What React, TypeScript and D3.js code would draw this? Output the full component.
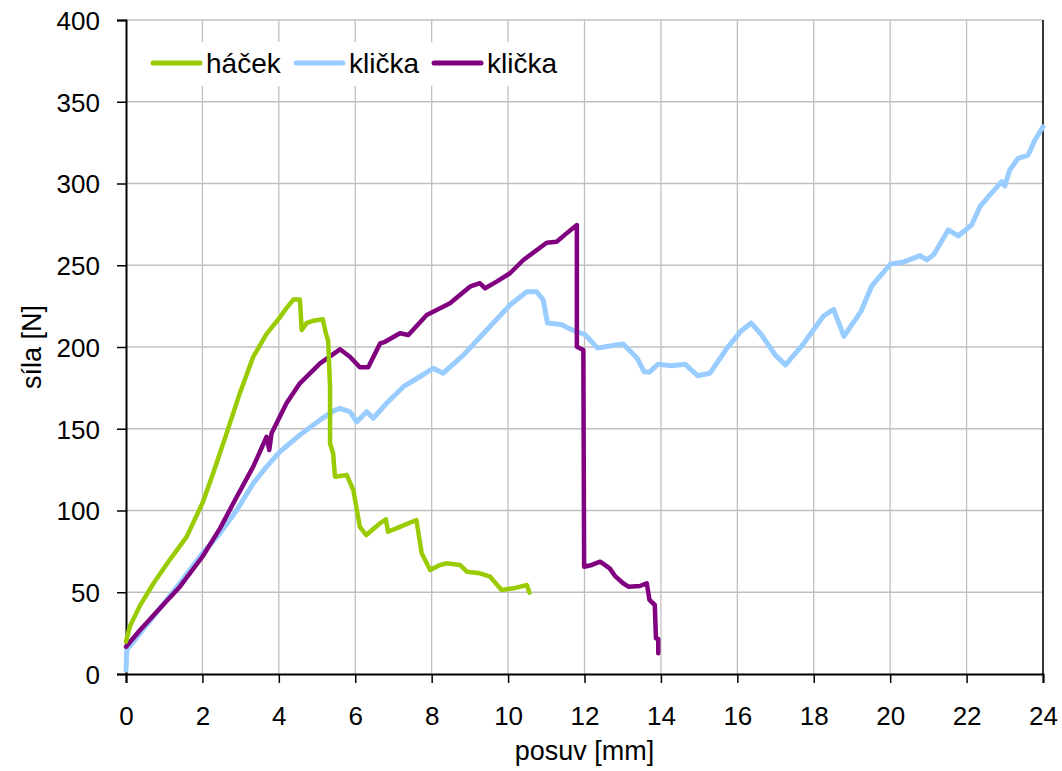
import { useEffect, useRef } from 'react';
import * as d3 from 'd3';

// posuv [mm] / síla [N]
const hacekX = [0, 0.1, 0.37, 0.72, 1.15, 1.59, 2.0, 2.28, 2.63, 2.98, 3.33, 3.68, 3.99, 4.2, 4.38, 4.55, 4.6, 4.73, 4.9, 5.15, 5.23, 5.29, 5.34, 5.34, 5.42, 5.47, 5.78, 5.95, 6.12, 6.29, 6.65, 6.8, 6.86, 7.17, 7.6, 7.74, 7.96, 8.22, 8.39, 8.74, 8.92, 9.26, 9.53, 9.83, 10.14, 10.49, 10.56];
const hacekY = [19.8, 29, 42, 55.5, 70, 84, 104.5, 122.7, 147, 171.8, 194, 208, 217, 223.8, 229, 229, 210.4, 214.7, 216, 217, 208.5, 204, 175.7, 141, 135, 120.7, 121.7, 112.5, 90, 85, 92.2, 94.6, 87, 90, 94.2, 73.8, 63.6, 66.7, 67.7, 66.7, 62.6, 61.6, 59.5, 51.4, 52.4, 54.4, 49.7];

const klicka1X = [0, 0.02, 0.37, 0.89, 1.41, 2.0, 2.46, 2.9, 3.33, 3.68, 4.03, 4.55, 5.08, 5.43, 5.6, 5.86, 6.04, 6.3, 6.47, 6.82, 7.26, 7.69, 8.04, 8.3, 8.83, 9.44, 10.05, 10.49, 10.75, 10.92, 11.03, 11.39, 11.66, 12.02, 12.34, 12.74, 13.01, 13.38, 13.56, 13.69, 13.92, 14.28, 14.64, 14.96, 15.28, 15.73, 16.09, 16.36, 16.63, 16.99, 17.26, 17.71, 18.25, 18.52, 18.79, 19.24, 19.52, 20.01, 20.33, 20.78, 20.96, 21.14, 21.52, 21.78, 22.13, 22.35, 22.61, 22.92, 23.0, 23.13, 23.35, 23.61, 23.79, 24.0];
const klicka1Y = [2.4, 14.7, 24.9, 40.2, 55.5, 73.8, 86, 100.3, 116.6, 126.8, 136, 146.2, 155.4, 160.9, 162.5, 160.4, 154.3, 160.4, 156.4, 165.6, 175.7, 181.8, 187, 184, 195, 210.4, 225.7, 233.8, 233.8, 228.7, 214.7, 213.7, 210.6, 207.5, 199.3, 200.9, 201.8, 193.1, 184.9, 184.5, 189.4, 188.6, 189.4, 182.4, 183.9, 199.3, 209.6, 214.7, 207.5, 195.2, 189, 201.3, 218.8, 223, 206.5, 222, 237.4, 250.8, 251.8, 255.9, 253.3, 256.5, 271.6, 267.9, 274.6, 285.8, 293, 301.1, 298.5, 308.3, 315.4, 317.4, 326.6, 334.7];

const klicka2X = [0, 0.37, 0.89, 1.41, 2.0, 2.46, 2.9, 3.33, 3.68, 3.75, 3.81, 4.2, 4.55, 5.08, 5.6, 5.86, 6.12, 6.34, 6.65, 6.78, 7.17, 7.39, 7.87, 8.48, 9.0, 9.26, 9.4, 9.7, 10.05, 10.4, 11.01, 11.27, 11.53, 11.8, 11.8, 11.97, 11.99, 12.19, 12.41, 12.66, 12.8, 13.01, 13.15, 13.45, 13.63, 13.7, 13.84, 13.87, 13.93, 13.93];
const klicka2Y = [16.7, 26.9, 40.2, 53.4, 71.7, 89.1, 108.4, 126.8, 145.1, 137, 147.2, 165.6, 177.8, 190, 198.6, 194, 187.6, 187.6, 202.2, 203.2, 208.4, 207.3, 219.6, 226.7, 236.9, 239, 235.9, 240, 245.1, 253.2, 263.8, 264.4, 269.5, 274.6, 200.2, 198.2, 65.6, 66.7, 68.7, 64.6, 59.9, 55.5, 53.4, 53.8, 55.5, 45.3, 42.2, 21.8, 21.4, 12.7];

const xTicks = [0, 2, 4, 6, 8, 10, 12, 14, 16, 18, 20, 22, 24];
const yTicks = [0, 50, 100, 150, 200, 250, 300, 350, 400];

const series = [
  { name: 'háček', xs: hacekX, ys: hacekY, color: '#99CC00', width: 4.5 },
  { name: 'klička', xs: klicka1X, ys: klicka1Y, color: '#99CCFF', width: 5 },
  { name: 'klička', xs: klicka2X, ys: klicka2Y, color: '#800080', width: 4.5 },
];

export default function App() {
  const svgRef = useRef<SVGSVGElement>(null);

  useEffect(() => {
    const svg = d3.select(svgRef.current);
    svg.selectAll('*').remove();
    const width = 1062;
    const height = 771;
    const margin = { top: 20, right: 19, bottom: 97, left: 126 };
    const font = 'Arial, "Liberation Sans", sans-serif';

    const x = d3.scaleLinear().domain([0, 24]).range([margin.left, width - margin.right]);
    const y = d3.scaleLinear().domain([0, 400]).range([height - margin.bottom, margin.top]);

    // grid
    const grid = svg.append('g').attr('stroke', '#c0c0c0').attr('stroke-width', 1.3);
    xTicks.slice(1).forEach((t) => {
      grid.append('line').attr('x1', x(t)).attr('x2', x(t)).attr('y1', y(0)).attr('y2', y(400));
    });
    yTicks.slice(1).forEach((t) => {
      grid.append('line').attr('x1', x(0)).attr('x2', x(24)).attr('y1', y(t)).attr('y2', y(t));
    });

    // right border of plot area
    svg.append('line').attr('x1', x(24)).attr('x2', x(24)).attr('y1', y(0)).attr('y2', y(400))
      .attr('stroke', '#000').attr('stroke-width', 1.5);

    const xAxis = svg.append('g')
      .attr('transform', `translate(0, ${y(0)})`)
      .call(d3.axisBottom(x).tickValues(xTicks).tickSize(9).tickPadding(24));
    const yAxis = svg.append('g')
      .attr('transform', `translate(${x(0)}, 0)`)
      .call(d3.axisLeft(y).tickValues(yTicks).tickSize(9).tickPadding(17));
    [xAxis, yAxis].forEach((a) => {
      a.select('.domain').attr('stroke', '#000').attr('stroke-width', 2);
      a.selectAll('.tick line').attr('stroke', '#000').attr('stroke-width', 1.5);
      a.selectAll('.tick text').attr('fill', '#000').style('font-family', font).style('font-size', '26px');
    });
    yAxis.selectAll('.tick text').attr('dy', '0.36em');

    // legend box
    svg.append('rect').attr('x', 141).attr('y', 42).attr('width', 428).attr('height', 44).attr('fill', '#fff');

    // draw order: blue, purple, green on top
    [1, 2, 0].forEach((i) => {
      const s = series[i];
      const pts: [number, number][] = s.xs.map((v, k) => [x(v), y(s.ys[k])]);
      svg.append('path')
        .attr('d', d3.line()(pts))
        .attr('fill', 'none')
        .attr('stroke', s.color)
        .attr('stroke-width', s.width)
        .attr('stroke-linejoin', 'round')
        .attr('stroke-linecap', 'round');
    });

    // legend
    const legendX = [153, 296, 434];
    series.forEach((s, i) => {
      svg.append('line').attr('x1', legendX[i]).attr('x2', legendX[i] + 47).attr('y1', 63).attr('y2', 63)
        .attr('stroke', s.color).attr('stroke-width', 5).attr('stroke-linecap', 'round');
      svg.append('text').attr('x', legendX[i] + 53).attr('y', 63).attr('dy', '0.36em')
        .style('font-family', font).style('font-size', '28px').attr('fill', '#000')
        .text(s.name);
    });

    // axis titles
    svg.append('text').attr('x', (x(0) + x(24)) / 2).attr('y', 760).attr('text-anchor', 'middle')
      .style('font-family', font).style('font-size', '27px').text('posuv [mm]');
    svg.append('text').attr('transform', `translate(41, ${(y(0) + y(400)) / 2}) rotate(-90)`)
      .attr('text-anchor', 'middle')
      .style('font-family', font).style('font-size', '27px').text('síla [N]');
  }, []);

  return (
    <div style={{ position: 'absolute', left: 0, top: 0 }}>
      <svg ref={svgRef} width={1062} height={771} style={{ display: 'block', background: '#fff' }} />
    </div>
  );
}
